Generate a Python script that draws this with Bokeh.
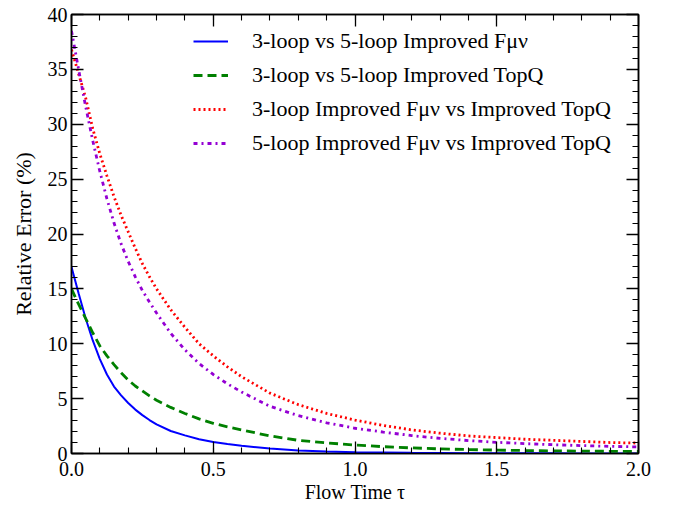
from bokeh.plotting import figure
from bokeh.models import (Range1d, LinearAxis, SingleIntervalTicker,
                          PrintfTickFormatter, CustomJSTickFormatter,
                          Legend, LegendItem)
from bokeh.embed import file_html
from bokeh.resources import INLINE

flow_time = [0.0, 0.025, 0.05, 0.075, 0.1, 0.125, 0.15, 0.175, 0.2, 0.225,
             0.25, 0.275, 0.3, 0.35, 0.4, 0.45, 0.5, 0.55, 0.6, 0.7, 0.8, 0.9,
             1.0, 1.1, 1.2, 1.3, 1.4, 1.5, 1.6, 1.7, 1.8, 1.9, 2.0]
err_3v5_fmunu = [17.0, 14.6, 12.3, 10.3, 8.6, 7.2, 6.1, 5.3, 4.6, 4.0,
                 3.5, 3.05, 2.65, 2.05, 1.65, 1.3, 1.05, 0.86, 0.7, 0.45, 0.28,
                 0.18, 0.12, 0.09, 0.06, 0.045, 0.03, 0.025, 0.02, 0.015, 0.01,
                 0.01, 0.01]
err_3v5_topq = [15.0, 13.6, 12.3, 11.0, 9.8, 8.9, 8.1, 7.35, 6.7, 6.15,
                5.7, 5.25, 4.85, 4.2, 3.65, 3.15, 2.75, 2.43, 2.15, 1.6, 1.2,
                0.97, 0.77, 0.62, 0.51, 0.42, 0.36, 0.31, 0.27, 0.24, 0.22,
                0.2, 0.18]
err_3_fmunu_topq = [36.8, 34.6, 32.4, 29.6, 27.3, 25.3, 23.4, 21.7, 20.2, 18.7,
                    17.3, 16.1, 15.0, 13.1, 11.5, 10.0, 8.9, 7.9, 7.0, 5.5,
                    4.45, 3.65, 3.05, 2.55, 2.15, 1.85, 1.6, 1.45, 1.3, 1.2,
                    1.1, 1.0, 0.95]
err_5_fmunu_topq = [38.5, 35.0, 31.6, 28.5, 25.7, 23.2, 21.0, 19.1, 17.5, 16.1,
                    14.85, 13.8, 12.8, 10.95, 9.45, 8.2, 7.2, 6.35, 5.6, 4.3,
                    3.45, 2.8, 2.3, 1.95, 1.63, 1.38, 1.18, 1.02, 0.9, 0.8,
                    0.72, 0.65, 0.6]
series_labels = ["3-loop vs 5-loop Improved Fμν",
                 "3-loop vs 5-loop Improved TopQ",
                 "3-loop Improved Fμν vs Improved TopQ",
                 "5-loop Improved Fμν vs Improved TopQ"]
x_label = "Flow Time τ"
y_label = "Relative Error (%)"

FONT = "Liberation Serif"

p = figure(width=678, height=506, output_backend="svg", toolbar_location=None,
           x_range=Range1d(0, 2), y_range=Range1d(0, 40),
           min_border_left=71, min_border_right=40, min_border_top=14,
           min_border_bottom=53, x_axis_type=None, y_axis_type=None)
p.xgrid.visible = False
p.ygrid.visible = False
p.outline_line_color = "black"
p.outline_line_width = 1.5
p.background_fill_color = "white"
p.border_fill_color = "white"


def make_axis(ticker_interval, fmt, with_labels, label=None, label_size="20px",
              label_standoff=6, tick_standoff=4):
    fmtr = PrintfTickFormatter(format=fmt) if with_labels else CustomJSTickFormatter(code="return ''")
    ax = LinearAxis(ticker=SingleIntervalTicker(interval=ticker_interval, num_minor_ticks=5),
                    formatter=fmtr)
    ax.major_tick_in = 12
    ax.major_tick_out = 0
    ax.minor_tick_in = 6
    ax.minor_tick_out = 0
    ax.major_tick_line_width = 1.3
    ax.minor_tick_line_width = 1.1
    ax.major_tick_line_color = "black"
    ax.minor_tick_line_color = "black"
    ax.axis_line_color = "black"
    ax.axis_line_width = 1.5
    ax.major_label_text_font = FONT
    ax.major_label_text_color = "black"
    ax.major_label_text_font_size = "20px"
    ax.major_label_standoff = tick_standoff if with_labels else 0
    if label:
        ax.axis_label = label
        ax.axis_label_text_font = FONT
        ax.axis_label_text_font_size = label_size
        ax.axis_label_text_font_style = "normal"
        ax.axis_label_text_color = "black"
        ax.axis_label_standoff = label_standoff
    return ax


p.add_layout(make_axis(0.5, "%.1f", True, x_label, "20px", 2, 8), "below")
p.add_layout(make_axis(5, "%d", True, y_label, "22px", 9, 4), "left")
p.add_layout(make_axis(0.5, "%.1f", False), "above")
p.add_layout(make_axis(5, "%d", False), "right")

r1 = p.line(flow_time, err_3v5_fmunu, line_color="#0000ff", line_width=2)
r2 = p.line(flow_time, err_3v5_topq, line_color="#008000", line_width=2.8,
            line_dash="9 5")
r3 = p.line(flow_time, err_3_fmunu_topq, line_color="#ff0000", line_width=2.8,
            line_dash="2 3")
r4 = p.line(flow_time, err_5_fmunu_topq, line_color="#9400d3", line_width=2.8,
            line_dash="4 4 2 4")

legend = Legend(items=[LegendItem(label=series_labels[0], renderers=[r1]),
                       LegendItem(label=series_labels[1], renderers=[r2]),
                       LegendItem(label=series_labels[2], renderers=[r3]),
                       LegendItem(label=series_labels[3], renderers=[r4])],
                location=(122, 297))
legend.border_line_color = None
legend.background_fill_alpha = 0
legend.padding = 0
legend.margin = 0
legend.spacing = 8
legend.glyph_width = 35
legend.glyph_height = 20
legend.label_height = 22
legend.label_standoff = 24
legend.label_text_font = FONT
legend.label_text_font_size = "22px"
legend.label_text_color = "black"
p.add_layout(legend)

open("out.html", "w").write(file_html(p, INLINE))
